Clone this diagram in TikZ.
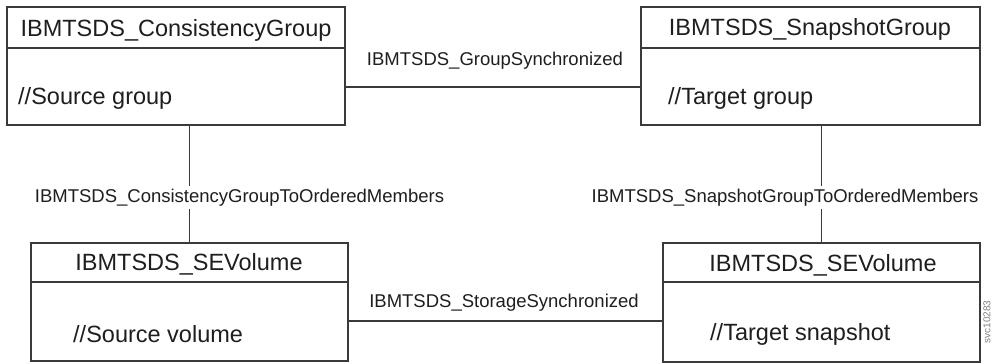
\documentclass[tikz,border=0pt]{standalone}
\usepackage{fontspec}
\setmainfont{Liberation Sans}
\definecolor{edge}{HTML}{3A3A3A}
\definecolor{ink}{HTML}{1E1E1E}
\begin{document}
\begin{tikzpicture}[x=1pt,y=-1pt,
  box/.style={draw=edge,line width=1.4pt,inner sep=0pt,outer sep=0pt},
  divider/.style={draw=edge,line width=1.4pt},
  conn/.style={draw=edge,line width=1.1pt},
  title/.style={anchor=base,inner sep=0pt,text=ink,font=\fontsize{23.5}{28}\selectfont},
  body/.style={anchor=base west,inner sep=0pt,text=ink,font=\fontsize{23.5}{28}\selectfont},
  rel/.style={anchor=base,inner xsep=2pt,inner ysep=3pt,text=ink,font=\fontsize{18.5}{22}\selectfont},
  fig/.style={rotate=90,inner sep=0pt,text=gray,font=\fontsize{10}{12}\selectfont}]
\useasboundingbox (0,0) rectangle (993,364);
% boxes
\node[box,minimum width=338pt,minimum height=118pt] (b1) at (176,66) {};
\node[box,minimum width=339pt,minimum height=118pt] (b2) at (810.5,66) {};
\node[box,minimum width=317pt,minimum height=118pt] (b3) at (189.5,302) {};
\node[box,minimum width=317pt,minimum height=119pt] (b4) at (821.5,302.5) {};
% dividers
\draw[divider] (b1.west |- 0,48) -- (b1.east |- 0,48);
\draw[divider] (b2.west |- 0,48) -- (b2.east |- 0,48);
\draw[divider] (b3.west |- 0,282) -- (b3.east |- 0,282);
\draw[divider] (b4.west |- 0,282) -- (b4.east |- 0,282);
% titles
\node[title] (t1) at (176,36) {IBMTSDS\_ConsistencyGroup};
\node[title] (t2) at (810,35) {IBMTSDS\_SnapshotGroup};
\node[title] (t3) at (189,270.5) {IBMTSDS\_SEVolume};
\node[title] (t4) at (823,271) {IBMTSDS\_SEVolume};
% bodies
\node[body] (s1) at (18,104) {//Source group};
\node[body] (s2) at (668,104) {//Target group};
\node[body] (s3) at (73,342) {//Source volume};
\node[body] (s4) at (710,340) {//Target snapshot};
% connectors
\draw[conn] (b1.east |- 0,87) -- (b2.west |- 0,87);
\draw[conn] (b3.east |- 0,321) -- (b4.west |- 0,321);
\draw[conn] (b3.north) -- (b3.north |- b1.south);
\draw[conn] (b4.north) -- (b4.north |- b2.south);
% relation labels
\node[rel] (r1) at (495,65) {IBMTSDS\_GroupSynchronized};
\node[rel] (r2) at (504,307) {IBMTSDS\_StorageSynchronized};
\node[rel,fill=white] (r3) at (239.5,202) {IBMTSDS\_ConsistencyGroupToOrderedMembers};
\node[rel,fill=white] (r4) at (785,202) {IBMTSDS\_SnapshotGroupToOrderedMembers};
% figure id
\node[fig] (fid) at (987,322) {svc10283};
\end{tikzpicture}
\end{document}
